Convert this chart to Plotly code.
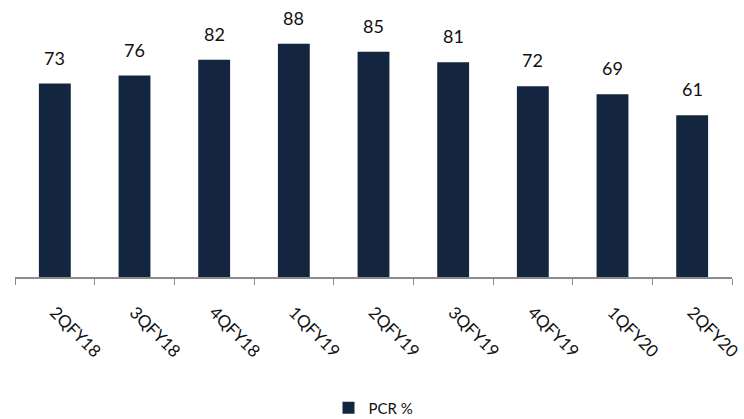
import plotly.graph_objects as go

categories = ["2QFY18", "3QFY18", "4QFY18", "1QFY19", "2QFY19", "3QFY19", "4QFY19", "1QFY20", "2QFY20"]
pcr = [73, 76, 82, 88, 85, 81, 72, 69, 61]

FONT = "Lato, Open Sans, sans-serif"

fig = go.Figure()
fig.add_trace(go.Bar(
    x=categories, y=pcr, name="PCR %",
    marker=dict(color="#13253F", line=dict(width=0)),
))
for c, v in zip(categories, pcr):
    fig.add_annotation(x=c, y=v, text=str(v), showarrow=False,
                       yanchor="bottom", yshift=13,
                       font=dict(size=18, color="#111111", family=FONT))
fig.update_layout(
    width=744, height=419,
    margin=dict(l=15, r=12, t=12, b=142, autoexpand=False),
    plot_bgcolor="white", paper_bgcolor="white",
    bargap=0.6,
    showlegend=True,
    legend=dict(orientation="h", x=0.5, xanchor="center", y=-0.494, yanchor="middle",
                font=dict(size=15, color="#111111", family=FONT)),
    xaxis=dict(
        automargin=False,
        showline=True, linecolor="#8C8C8C", linewidth=1.5,
        ticks="outside", ticklen=6, tickcolor="#8C8C8C", tickson="boundaries",
        tickangle=45, ticklabelstandoff=17,
        tickfont=dict(size=17, color="#111111", family=FONT),
    ),
    yaxis=dict(range=[0, 100], visible=False, showgrid=False),
)
fig.write_html("out.html")
